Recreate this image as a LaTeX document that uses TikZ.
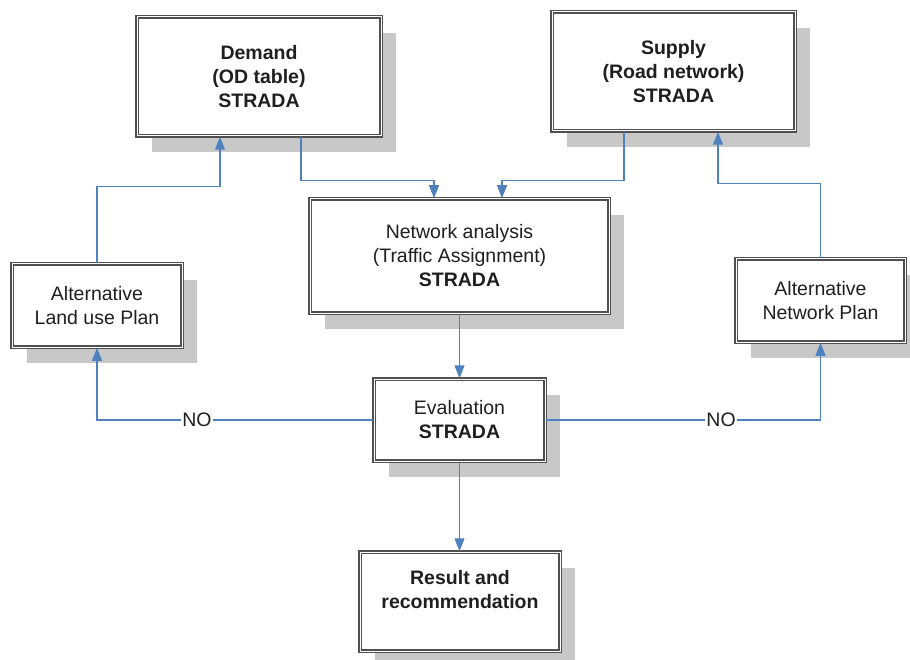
\documentclass[tikz,border=0pt]{standalone}
\usepackage{fontspec}
\setmainfont{Liberation Sans}
\usetikzlibrary{arrows.meta,shadows,calc}
\definecolor{connblue}{RGB}{79,129,189}
\definecolor{shadowgray}{RGB}{200,200,200}
\definecolor{bordergray}{RGB}{80,80,80}
\tikzset{
  boxnode/.style={draw=bordergray, double=white, line width=1.5pt, double distance=1pt,
    fill=white, align=center, inner sep=0pt, text=black!88,
    font=\fontsize{19.5}{24}\selectfont,
    drop shadow={shadow xshift=15pt, shadow yshift=-16pt, fill=shadowgray, opacity=1}},
  conn/.style={draw=connblue, line width=1.1pt, -{Triangle[width=10pt,length=13pt]}},
  nolabel/.style={fill=white, inner sep=1pt, text=black!88, font=\fontsize{19.5}{24}\selectfont}
}
\begin{document}
\begin{tikzpicture}[x=1pt,y=-1pt]
\useasboundingbox (0,0) rectangle (910,660);
\node[boxnode, minimum width=244pt, minimum height=119pt] (dem) at (259,76.5)
  {\textbf{Demand}\\\textbf{(OD table)}\\\textbf{STRADA}};
\node[boxnode, minimum width=243pt, minimum height=119pt] (sup) at (673.5,71.5)
  {\textbf{Supply}\\\textbf{(Road network)}\\\textbf{STRADA}};
\node[boxnode, minimum width=299pt, minimum height=114pt] (net) at (459.5,256)
  {Network analysis\\(Traffic Assignment)\\\textbf{STRADA}};
\node[boxnode, minimum width=170pt, minimum height=83pt] (land) at (97,305.5)
  {Alternative\\Land use Plan};
\node[boxnode, minimum width=169pt, minimum height=83pt] (altnet) at (820.5,300.5)
  {Alternative\\Network Plan};
\node[boxnode, minimum width=171pt, minimum height=82pt] (eval) at (459.5,420)
  {Evaluation\\\textbf{STRADA}};
\node[boxnode, minimum width=200pt, minimum height=99pt] (res) at (460,601.5)
  {\textbf{Result and}\\\textbf{recommendation}\\\mbox{}};

\draw[conn] ([xshift=42pt]dem.south) -- ++(0,44) -| ([xshift=-25.5pt]net.north);
\draw[conn] ([xshift=-49.5pt]sup.south) -- ++(0,49) -| ([xshift=42.5pt]net.north);
\draw[conn] (net.south) -- (eval.north);
\draw[conn] (eval.south) -- (eval.south |- res.north);
\draw[conn] (eval.west) -| node[nolabel, pos=0.319] (no1) {NO} (land.south);
\draw[conn] (eval.east) -| node[nolabel, pos=0.319] (no2) {NO} (altnet.south);
\draw[conn] (land.north) -- ++(0,-77) -| ([xshift=-39pt]dem.south);
\draw[conn] (altnet.north) -- ++(0,-75) -| ([xshift=44.5pt]sup.south);
\end{tikzpicture}
\end{document}
